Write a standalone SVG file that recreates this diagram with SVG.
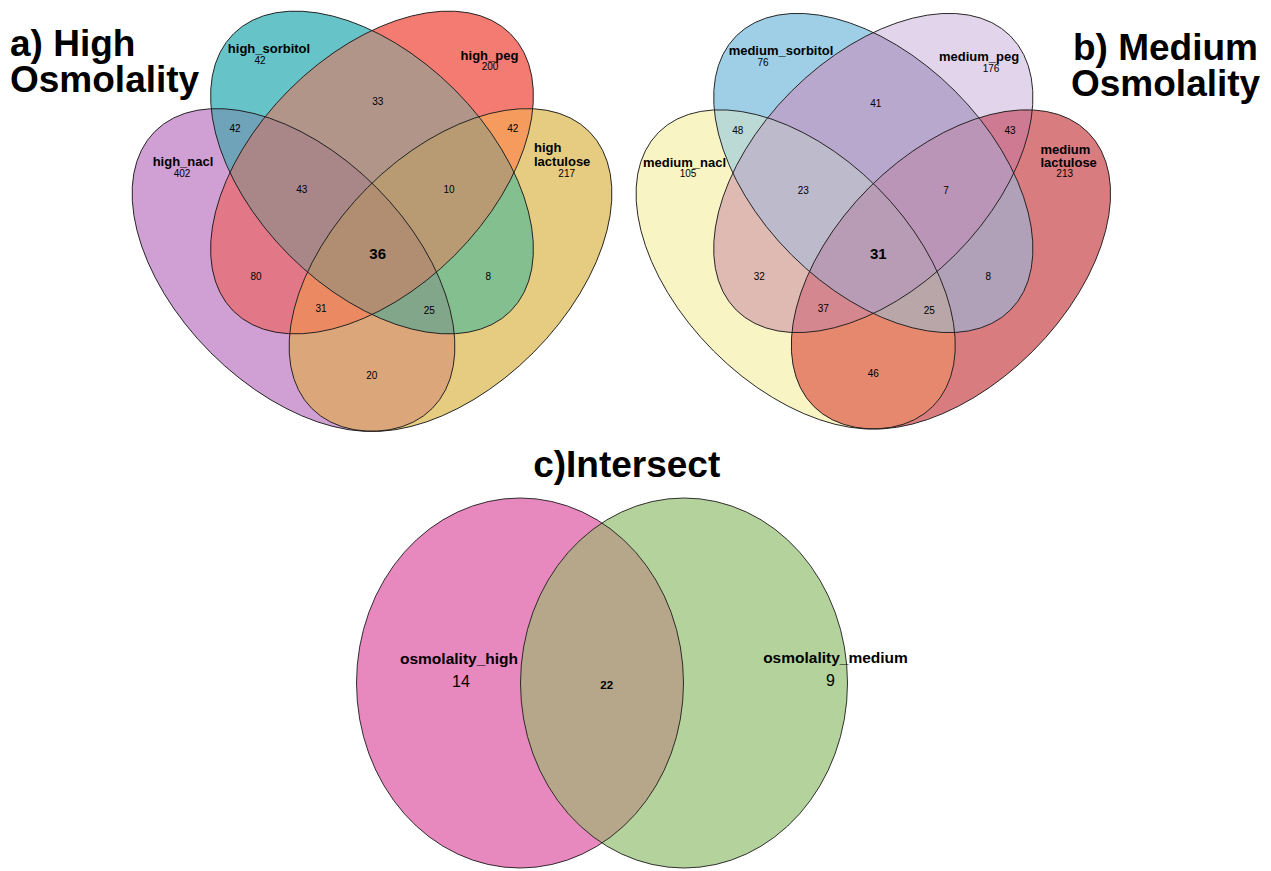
<svg xmlns="http://www.w3.org/2000/svg" xmlns:xlink="http://www.w3.org/1999/xlink" width="1271" height="871" viewBox="0 0 1271 871">
  <style>
    text { font-family: "Liberation Sans", Arial, Helvetica, sans-serif; fill: #000; }
    .title { font-size: 37px; font-weight: bold; }
    .lab { font-size: 13px; font-weight: bold; text-anchor: middle; }
    .labl { font-size: 13px; font-weight: bold; text-anchor: start; }
    .cnt { font-size: 10px; text-anchor: middle; }
    .big { font-size: 15px; font-weight: bold; text-anchor: middle; }
    .outline { fill: none; stroke: #1c1c1c; stroke-width: 0.9; }
    .lab2 { font-size: 15.5px; font-weight: bold; text-anchor: middle; }
    .cnt2 { font-size: 16px; text-anchor: middle; }
    .mid2 { font-size: 11.5px; font-weight: bold; text-anchor: middle; }
  </style>
  <defs>
    <!-- four-set ellipses, local coordinates centred on the inner pair -->
    <ellipse id="eN" cx="0" cy="0" rx="196" ry="117" transform="translate(-78.5 97.5) rotate(45)"/>
    <ellipse id="eS" cx="0" cy="0" rx="196" ry="117" transform="rotate(45)"/>
    <ellipse id="eP" cx="0" cy="0" rx="196" ry="117" transform="rotate(-45)"/>
    <ellipse id="eL" cx="0" cy="0" rx="196" ry="117" transform="translate(78.5 97.5) rotate(-45)"/>
    <clipPath id="cN"><ellipse cx="0" cy="0" rx="196" ry="117" transform="translate(-78.5 97.5) rotate(45)"/></clipPath>
    <clipPath id="cS"><ellipse cx="0" cy="0" rx="196" ry="117" transform="rotate(45)"/></clipPath>
    <clipPath id="cP"><ellipse cx="0" cy="0" rx="196" ry="117" transform="rotate(-45)"/></clipPath>
    <clipPath id="cL"><ellipse cx="0" cy="0" rx="196" ry="117" transform="translate(78.5 97.5) rotate(-45)"/></clipPath>
    <!-- two-set ellipses -->
    <ellipse id="eH" cx="520" cy="683" rx="163.5" ry="185"/>
    <ellipse id="eM" cx="684" cy="683" rx="163.5" ry="185"/>
    <clipPath id="cH"><ellipse cx="520" cy="683" rx="163.5" ry="185"/></clipPath>
  </defs>

  <rect width="1271" height="871" fill="#fff"/>

  <!-- a) High osmolality -->
  <g id="venn-high">
    <g id="regions-high" transform="translate(372 172.5)">
      <!-- single sets -->
      <use href="#eN" fill="#D0A0D4"/>
      <use href="#eS" fill="#66C4C8"/>
      <use href="#eP" fill="#F47B71"/>
      <use href="#eL" fill="#E6CC80"/>
      <!-- pairs -->
      <g clip-path="url(#cS)"><use href="#eN" fill="#6EA3B9"/></g>
      <g clip-path="url(#cP)"><use href="#eS" fill="#B09588"/></g>
      <g clip-path="url(#cL)"><use href="#eP" fill="#F59B5E"/></g>
      <g clip-path="url(#cP)"><use href="#eN" fill="#E27788"/></g>
      <g clip-path="url(#cL)"><use href="#eS" fill="#84BF8F"/></g>
      <g clip-path="url(#cL)"><use href="#eN" fill="#DBA67A"/></g>
      <!-- triples -->
      <g clip-path="url(#cS)"><g clip-path="url(#cP)"><use href="#eN" fill="#A98788"/></g></g>
      <g clip-path="url(#cP)"><g clip-path="url(#cL)"><use href="#eS" fill="#B89B73"/></g></g>
      <g clip-path="url(#cP)"><g clip-path="url(#cL)"><use href="#eN" fill="#EB8A62"/></g></g>
      <g clip-path="url(#cS)"><g clip-path="url(#cL)"><use href="#eN" fill="#82A68A"/></g></g>
      <!-- all four -->
      <g clip-path="url(#cS)"><g clip-path="url(#cP)"><g clip-path="url(#cL)"><use href="#eN" fill="#B18E72"/></g></g></g>
    </g>
    <g id="set-high-nacl">
      <use href="#eN" class="outline" transform="translate(372 172.5)"/>
      <text class="lab" x="183" y="166">high_nacl</text>
      <text class="cnt" x="182" y="176.5">402</text>
    </g>
    <g id="set-high-sorbitol">
      <use href="#eS" class="outline" transform="translate(372 172.5)"/>
      <text class="lab" x="269" y="53">high_sorbitol</text>
      <text class="cnt" x="260" y="64">42</text>
    </g>
    <g id="set-high-peg">
      <use href="#eP" class="outline" transform="translate(372 172.5)"/>
      <text class="lab" x="489.5" y="59.5">high_peg</text>
      <text class="cnt" x="490" y="70">200</text>
    </g>
    <g id="set-high-lactulose">
      <use href="#eL" class="outline" transform="translate(372 172.5)"/>
      <text class="labl" x="534" y="151.5">high</text>
      <text class="labl" x="534" y="165.5">lactulose</text>
      <text class="cnt" x="566.7" y="176.5">217</text>
    </g>
    <g id="counts-high">
      <text class="cnt" x="377.7" y="104.6">33</text>
      <text class="cnt" x="235" y="132">42</text>
      <text class="cnt" x="512.7" y="132">42</text>
      <text class="cnt" x="301.7" y="193">43</text>
      <text class="cnt" x="449" y="193">10</text>
      <text class="big" x="377.7" y="258.5">36</text>
      <text class="cnt" x="256" y="279.6">80</text>
      <text class="cnt" x="488.3" y="279.6">8</text>
      <text class="cnt" x="321" y="312">31</text>
      <text class="cnt" x="429.3" y="313.6">25</text>
      <text class="cnt" x="371.7" y="378.6">20</text>
    </g>
    <text class="title" x="10" y="56">a) High</text>
    <text class="title" x="10" y="92">Osmolality</text>
  </g>

  <!-- b) Medium osmolality -->
  <g id="venn-medium">
    <g id="regions-medium" transform="translate(873.3 173) scale(0.989)">
      <use href="#eN" fill="#F8F4C4"/>
      <use href="#eS" fill="#9FCFE6"/>
      <use href="#eP" fill="#E2D5EB"/>
      <use href="#eL" fill="#D97C80"/>
      <g clip-path="url(#cS)"><use href="#eN" fill="#BCDAD5"/></g>
      <g clip-path="url(#cP)"><use href="#eS" fill="#B9A8CD"/></g>
      <g clip-path="url(#cL)"><use href="#eP" fill="#CE7A93"/></g>
      <g clip-path="url(#cP)"><use href="#eN" fill="#DEBAB3"/></g>
      <g clip-path="url(#cL)"><use href="#eS" fill="#B0A0B8"/></g>
      <g clip-path="url(#cL)"><use href="#eN" fill="#E5886E"/></g>
      <g clip-path="url(#cS)"><g clip-path="url(#cP)"><use href="#eN" fill="#BDBACB"/></g></g>
      <g clip-path="url(#cP)"><g clip-path="url(#cL)"><use href="#eS" fill="#BA95B8"/></g></g>
      <g clip-path="url(#cP)"><g clip-path="url(#cL)"><use href="#eN" fill="#D4878F"/></g></g>
      <g clip-path="url(#cS)"><g clip-path="url(#cL)"><use href="#eN" fill="#B9A6A8"/></g></g>
      <g clip-path="url(#cS)"><g clip-path="url(#cP)"><g clip-path="url(#cL)"><use href="#eN" fill="#B89CB5"/></g></g></g>
    </g>
    <g id="set-medium-nacl">
      <use href="#eN" class="outline" transform="translate(873.3 173) scale(0.989)"/>
      <text class="lab" x="684.5" y="166.5">medium_nacl</text>
      <text class="cnt" x="688" y="177">105</text>
    </g>
    <g id="set-medium-sorbitol">
      <use href="#eS" class="outline" transform="translate(873.3 173) scale(0.989)"/>
      <text class="lab" x="781" y="55">medium_sorbitol</text>
      <text class="cnt" x="763" y="65.5">76</text>
    </g>
    <g id="set-medium-peg">
      <use href="#eP" class="outline" transform="translate(873.3 173) scale(0.989)"/>
      <text class="lab" x="979" y="61">medium_peg</text>
      <text class="cnt" x="991" y="71.5">176</text>
    </g>
    <g id="set-medium-lactulose">
      <use href="#eL" class="outline" transform="translate(873.3 173) scale(0.989)"/>
      <text class="labl" x="1040.5" y="154">medium</text>
      <text class="labl" x="1040.5" y="166.5">lactulose</text>
      <text class="cnt" x="1064.7" y="177">213</text>
    </g>
    <g id="counts-medium">
      <text class="cnt" x="875.7" y="107">41</text>
      <text class="cnt" x="737.7" y="133.6">48</text>
      <text class="cnt" x="1010" y="133.6">43</text>
      <text class="cnt" x="803.3" y="194.3">23</text>
      <text class="cnt" x="946" y="194.3">7</text>
      <text class="big" x="878.3" y="258.5">31</text>
      <text class="cnt" x="759.3" y="279.6">32</text>
      <text class="cnt" x="988.3" y="279.6">8</text>
      <text class="cnt" x="823.3" y="312">37</text>
      <text class="cnt" x="929.3" y="313.6">25</text>
      <text class="cnt" x="873.3" y="377">46</text>
    </g>
    <text class="title" x="1073" y="60">b) Medium</text>
    <text class="title" x="1071" y="96">Osmolality</text>
  </g>

  <!-- c) Intersect -->
  <g id="venn-intersect">
    <g id="regions-intersect">
      <use href="#eH" fill="#E788BE"/>
      <use href="#eM" fill="#B4D39C"/>
      <g clip-path="url(#cH)"><use href="#eM" fill="#B7A78A"/></g>
    </g>
    <g id="set-osmolality-high">
      <use href="#eH" class="outline"/>
      <text class="lab2" x="459" y="663.5">osmolality_high</text>
      <text class="cnt2" x="461" y="687">14</text>
    </g>
    <g id="set-osmolality-medium">
      <use href="#eM" class="outline"/>
      <text class="lab2" x="835.5" y="662.5">osmolality_medium</text>
      <text class="cnt2" x="830.5" y="686">9</text>
    </g>
    <text class="mid2" x="606.7" y="688.5">22</text>
    <text class="title" x="626.7" y="477" text-anchor="middle">c)Intersect</text>
  </g>
</svg>
